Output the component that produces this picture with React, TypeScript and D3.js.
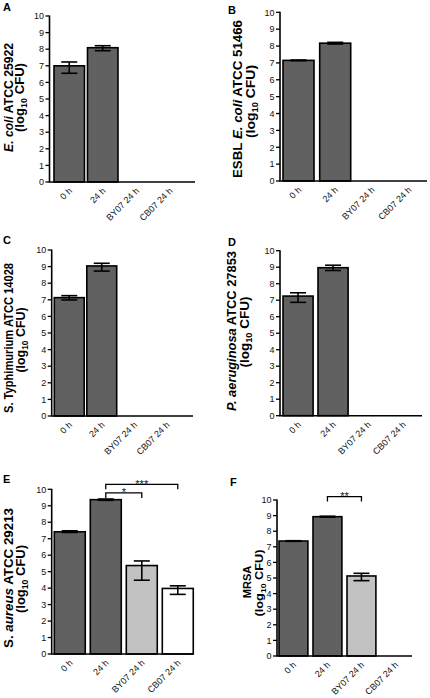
import React from "react";
import * as d3 from "d3";

const categories = ["0 h", "24 h", "BY07 24 h", "CB07 24 h"];
const yTickValues = [0, 1, 2, 3, 4, 5, 6, 7, 8, 9, 10];
const panelLetters = ["A", "B", "C", "D", "E", "F"];
const barFills = ["#616161", "#616161", "#c2c2c2", "#ffffff"];

// means / error ranges (log10 CFU); null = no bar
const meansA = [7.0, 8.09, null, null];
const lowA = [6.55, 7.91, null, null];
const highA = [7.23, 8.21, null, null];

const meansB = [7.15, 8.17, null, null];
const lowB = [7.13, 8.12, null, null];
const highB = [7.17, 8.22, null, null];

const meansC = [7.13, 9.04, null, null];
const lowC = [6.99, 8.73, null, null];
const highC = [7.25, 9.2, null, null];

const meansD = [7.25, 8.97, null, null];
const lowD = [6.87, 8.8, null, null];
const highD = [7.45, 9.12, null, null];

const meansE = [7.42, 9.37, 5.37, 3.98];
const lowE = [7.38, 9.33, 4.48, 3.62];
const highE = [7.48, 9.41, 5.65, 4.14];

const meansF = [7.37, 8.93, 5.13, null];
const lowF = [7.35, 8.9, 4.83, null];
const highF = [7.39, 8.96, 5.3, null];

// significance brackets
const sigE = [
  { from: 1, to: 3, y: 10.3, label: "***" },
  { from: 1, to: 2, y: 9.78, label: "*" },
];
const sigF = [{ from: 1, to: 2, y: 10.22, label: "**" }];
const sigNone: { from: number; to: number; y: number; label: string }[] = [];

type Part = { t: string; i?: boolean };
const labelA: Part[] = [{ t: "E. coli", i: true }, { t: " ATCC 25922" }];
const labelB: Part[] = [{ t: "ESBL " }, { t: "E. coli", i: true }, { t: " ATCC 51466" }];
const labelC: Part[] = [{ t: "S. Typhimurium ATCC 14028" }];
const labelD: Part[] = [{ t: "P. aeruginosa", i: true }, { t: " ATCC 27853" }];
const labelE: Part[] = [{ t: "S. " }, { t: "aureus", i: true }, { t: " ATCC 29213" }];
const labelF: Part[] = [{ t: "MRSA" }];

const FONT = "'Liberation Sans', Arial, Helvetica, sans-serif";

const panels = [
  { means: meansA, low: lowA, high: highA, sig: sigNone, label: labelA,
    axisX: 49.5, barStart: 54, step: 33.5, pad: 0.09, xEnd: 195, yTop: 16, yBottom: 182,
    letterX: 3, letterY: 11, l1x: 8.3, l2x: 19.3, ly1: 97.5, ly2: 97.5, len: 109, len2: 69, fs: 12 },
  { means: meansB, low: lowB, high: highB, sig: sigNone, label: labelB,
    axisX: 280, barStart: 283, step: 36.7, pad: 0.155, xEnd: 427, yTop: 12.3, yBottom: 181,
    letterX: 228, letterY: 14, l1x: 237, l2x: 250.7, ly1: 99, ly2: 101.5, len: 158, len2: 73, fs: 12.5 },
  { means: meansC, low: lowC, high: highC, sig: sigNone, label: labelC,
    axisX: 51.7, barStart: 54.3, step: 32.5, pad: 0.08, xEnd: 193, yTop: 250, yBottom: 416,
    letterX: 3, letterY: 244, l1x: 8.7, l2x: 20.5, ly1: 338, ly2: 340, len: 150, len2: 65, fs: 12 },
  { means: meansD, low: lowD, high: highD, sig: sigNone, label: labelD,
    axisX: 280, barStart: 283, step: 35, pad: 0.14, xEnd: 422, yTop: 250.7, yBottom: 415.7,
    letterX: 228, letterY: 246, l1x: 232, l2x: 244.5, ly1: 331, ly2: 332, len: 160, len2: 71, fs: 12 },
  { means: meansE, low: lowE, high: highE, sig: sigE, label: labelE,
    axisX: 51.7, barStart: 54.3, step: 36, pad: 0.14, xEnd: 193, yTop: 489.3, yBottom: 654,
    letterX: 3, letterY: 483, l1x: 8.7, l2x: 20.5, ly1: 578, ly2: 579, len: 140, len2: 68, fs: 12 },
  { means: meansF, low: lowF, high: highF, sig: sigF, label: labelF,
    axisX: 277, barStart: 279, step: 34, pad: 0.15, xEnd: 412, yTop: 500, yBottom: 656,
    letterX: 230, letterY: 486, l1x: 247.5, l2x: 259, ly1: 582, ly2: 583, len: 0, len2: 67, fs: 11 },
];

function Panel({ p, letter }: { p: (typeof panels)[number]; letter: string }) {
  const x = d3
    .scaleBand<string>()
    .domain(categories)
    .range([p.barStart, p.barStart + p.step * (categories.length - p.pad)])
    .paddingInner(p.pad)
    .paddingOuter(0);
  const y = d3.scaleLinear().domain([0, 10]).range([p.yBottom, p.yTop]);
  const bw = x.bandwidth();
  const cx = (c: string) => (x(c) as number) + bw / 2;
  const cap = 8;

  return (
    <g fontFamily={FONT}>
      <text x={p.letterX} y={p.letterY} fontSize={11} fontWeight="bold" fill="#000">
        {letter}
      </text>
      {/* y label */}
      <text
        transform={`translate(${p.l1x},${p.ly1}) rotate(-90)`}
        textAnchor="middle"
        dy="0.36em"
        fontSize={p.fs}
        fontWeight="bold"
        {...(p.len ? { textLength: p.len, lengthAdjust: "spacingAndGlyphs" } : {})}
      >
        {p.label.map((part, i) => (
          <tspan key={i} fontStyle={part.i ? "italic" : "normal"}>
            {part.t}
          </tspan>
        ))}
      </text>
      <text
        transform={`translate(${p.l2x},${p.ly2}) rotate(-90)`}
        textAnchor="middle"
        dy="0.36em"
        fontSize={p.fs}
        fontWeight="bold"
        textLength={p.len2}
        lengthAdjust="spacingAndGlyphs"
      >
        <tspan>(log</tspan>
        <tspan fontSize={p.fs * 0.68} dy={3}>10</tspan>
        <tspan dy={-3}> CFU)</tspan>
      </text>
      {/* bars */}
      {categories.map((c, i) => {
        const m = p.means[i];
        if (m == null) return null;
        return (
          <rect
            key={c}
            x={x(c)}
            y={y(m)}
            width={bw}
            height={y(0) - y(m)}
            fill={barFills[i]}
            stroke="#000"
            strokeWidth={1.6}
          />
        );
      })}
      {/* error bars */}
      {categories.map((c, i) => {
        const lo = p.low[i];
        const hi = p.high[i];
        if (lo == null || hi == null) return null;
        const xc = cx(c);
        return (
          <g key={c} stroke="#000" strokeWidth={1.6}>
            <line x1={xc} x2={xc} y1={y(lo)} y2={y(hi)} />
            <line x1={xc - cap} x2={xc + cap} y1={y(lo)} y2={y(lo)} />
            <line x1={xc - cap} x2={xc + cap} y1={y(hi)} y2={y(hi)} />
          </g>
        );
      })}
      {/* axes */}
      <line x1={p.axisX} x2={p.axisX} y1={y(10) - 0.5} y2={y(0)} stroke="#000" strokeWidth={1.6} />
      <line x1={p.axisX - 0.8} x2={p.xEnd} y1={y(0)} y2={y(0)} stroke="#000" strokeWidth={1.6} />
      {yTickValues.map((t) => (
        <g key={t}>
          <line x1={p.axisX - 4} x2={p.axisX} y1={y(t)} y2={y(t)} stroke="#000" strokeWidth={1.3} />
          <text x={p.axisX - 5.5} y={y(t)} dy="0.36em" textAnchor="end" fontSize={9} fill="#111">
            {t}
          </text>
        </g>
      ))}
      {categories.map((c) => (
        <text
          key={c}
          transform={`translate(${cx(c) - 1},${p.yBottom + 5}) rotate(-45)`}
          textAnchor="end"
          dy="0.7em"
          fontSize={9}
          fill="#111"
        >
          {c}
        </text>
      ))}
      {/* significance */}
      {p.sig.map((s, k) => {
        const x1 = cx(categories[s.from]);
        const x2 = cx(categories[s.to]);
        const yy = y(s.y);
        return (
          <g key={k}>
            <path
              d={`M${x1},${yy + 5}V${yy}H${x2}V${yy + 5}`}
              fill="none"
              stroke="#000"
              strokeWidth={1.3}
            />
            <text x={(x1 + x2) / 2} y={yy + 3.5} textAnchor="middle" fontSize={11} fill="#111">
              {s.label}
            </text>
          </g>
        );
      })}
    </g>
  );
}

export default function App() {
  return (
    <svg
      width={430}
      height={698}
      style={{ position: "absolute", left: 0, top: 0, background: "#fff" }}
    >
      <rect width={430} height={698} fill="#fff" />
      {panels.map((p, i) => (
        <Panel key={i} p={p} letter={panelLetters[i]} />
      ))}
    </svg>
  );
}
